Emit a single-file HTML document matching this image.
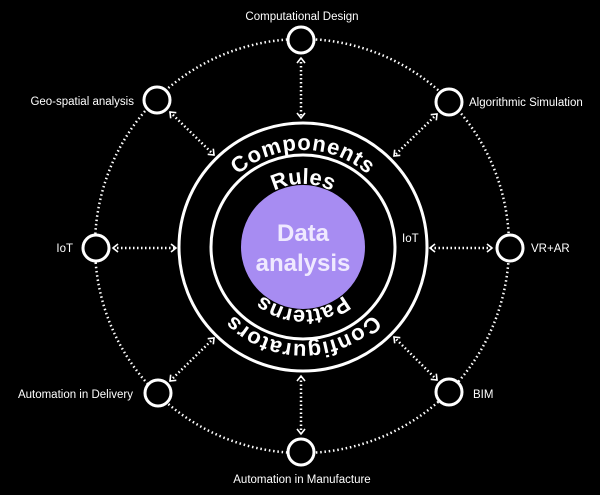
<!DOCTYPE html>
<html><head><meta charset="utf-8"><style>
html,body{margin:0;padding:0;background:#000;}
svg{display:block;}
.l{font-family:"Liberation Sans",Arial,sans-serif;font-size:11.5px;fill:#fff;}
.b{font-family:"Liberation Sans",Arial,sans-serif;font-weight:bold;fill:#fff;}
</style></head><body>
<svg width="600" height="495" viewBox="0 0 600 495" xmlns="http://www.w3.org/2000/svg">
<defs>
<path id="p1" d="M206,247 A97,97 0 1 1 400,247 A97,97 0 1 1 206,247"/>
<path id="p2" d="M240,247 A63,63 0 1 1 366,247 A63,63 0 1 1 240,247"/>
</defs>
<rect width="600" height="495" fill="#000"/>
<circle cx="302" cy="246" r="207" fill="none" stroke="#fff" stroke-width="2.5" stroke-dasharray="1.5 2.8"/>
<circle cx="303" cy="247" r="124" fill="none" stroke="#fff" stroke-width="3"/>
<circle cx="303" cy="247" r="92" fill="none" stroke="#fff" stroke-width="3"/>
<circle cx="303" cy="247" r="62" fill="#a78cf2"/>
<text class="b" font-size="24" text-anchor="middle" x="303" y="241" style="fill:#efe9ff">Data</text>
<text class="b" font-size="24" text-anchor="middle" x="303" y="271" style="fill:#efe9ff">analysis</text>
<text class="b" font-size="22" letter-spacing="0.8"><textPath href="#p1" startOffset="25%" text-anchor="middle">Components</textPath></text>
<text class="b" font-size="22" letter-spacing="0.8"><textPath href="#p1" startOffset="75%" text-anchor="middle">Configurators</textPath></text>
<text class="b" font-size="22"><textPath href="#p2" startOffset="25%" text-anchor="middle">Rules</textPath></text>
<text class="b" font-size="22"><textPath href="#p2" startOffset="75%" text-anchor="middle">Patterns</textPath></text>
<text class="l" x="402" y="242" font-size="11">IoT</text>
<g stroke="#fff" stroke-width="2.5" stroke-dasharray="1.5 2.5">
<line x1="301" y1="58" x2="301" y2="118"/>
<line x1="301" y1="434" x2="301" y2="376"/>
<line x1="113" y1="248" x2="176" y2="248"/>
<line x1="492" y1="248" x2="430" y2="248"/>
<line x1="170" y1="112" x2="214" y2="155"/>
<line x1="437" y1="114" x2="394" y2="156"/>
<line x1="170" y1="381" x2="214" y2="338"/>
<line x1="437" y1="380" x2="394" y2="337"/>
</g>
<g stroke="#fff" stroke-width="1.6" fill="none">
<path d="M297,63 L301,58 L305,63"/><path d="M297,113 L301,118 L305,113"/>
<path d="M297,429 L301,434 L305,429"/><path d="M297,381 L301,376 L305,381"/>
<path d="M118,244 L113,248 L118,252"/><path d="M171,244 L176,248 L171,252"/>
<path d="M487,244 L492,248 L487,252"/><path d="M435,244 L430,248 L435,252"/>
<path d="M176.3,112.7 L170,112 L170.7,118.3"/><path d="M213.3,148.7 L214,155 L207.7,154.3"/>
<path d="M436.3,120.3 L437,114 L430.7,114.7"/><path d="M400.3,155.3 L394,156 L394.7,149.7"/>
<path d="M176.3,380.3 L170,381 L170.7,374.7"/><path d="M213.3,344.3 L214,338 L207.7,338.7"/>
<path d="M436.3,373.7 L437,380 L430.7,379.3"/><path d="M400.3,337.7 L394,337 L394.7,343.3"/>
</g>
<g fill="#000" stroke="#fff" stroke-width="3">
<circle cx="301" cy="40" r="13"/>
<circle cx="301" cy="452" r="13"/>
<circle cx="96" cy="248" r="13"/>
<circle cx="510" cy="248" r="13"/>
<circle cx="157" cy="100" r="13"/>
<circle cx="449" cy="102" r="13"/>
<circle cx="158" cy="393" r="13"/>
<circle cx="449" cy="392" r="13"/>
</g>
<text class="l" x="302" y="20" text-anchor="middle">Computational Design</text>
<text class="l" x="134" y="105" text-anchor="end">Geo-spatial analysis</text>
<text class="l" x="469" y="106">Algorithmic Simulation</text>
<text class="l" x="73" y="252" text-anchor="end">IoT</text>
<text class="l" x="531" y="252">VR+AR</text>
<text class="l" x="133" y="398" text-anchor="end">Automation in Delivery</text>
<text class="l" x="473" y="398">BIM</text>
<text class="l" x="302" y="483" text-anchor="middle">Automation in Manufacture</text>
</svg>
</body></html>
